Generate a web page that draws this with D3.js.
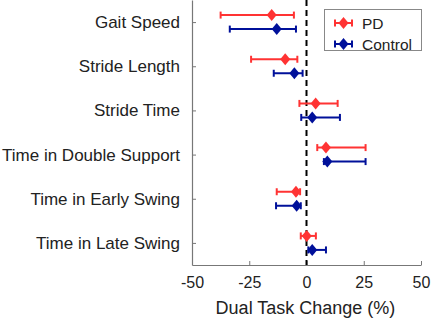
<!DOCTYPE html>
<html><head><meta charset="utf-8">
<script src="https://cdn.jsdelivr.net/npm/d3@7"></script>
<style>body{margin:0;background:#fff}text{font-family:"Liberation Sans",Arial,sans-serif;fill:#222}</style>
</head><body><svg id="c" width="431" height="321"></svg>
<script>
const categories = ["Gait Speed","Stride Length","Stride Time","Time in Double Support","Time in Early Swing","Time in Late Swing"];
const pdMean  = [-15.2, -9.3, 4.0, 8.5, -4.6, 0.1];
const pdLow   = [-37.5, -24.2, -3.1, 4.7, -13.0, -2.5];
const pdHigh  = [-5.5, -4.0, 13.6, 25.8, -2.8, 4.1];
const ctMean  = [-13.0, -5.3, 2.5, 9.1, -4.3, 2.5];
const ctLow   = [-33.5, -14.3, -2.3, 7.6, -13.3, 0.8];
const ctHigh  = [-4.6, -1.7, 14.6, 25.8, -2.5, 8.5];
const xTicks  = [-50, -25, 0, 25, 50];
const seriesNames = ["PD", "Control"];
const colors = ["#ff3333", "#00109a"];

const svg = d3.select("#c");
const L = 192, R = 421, T = 0, B = 265;
const x = d3.scaleLinear().domain([-50, 50]).range([L, R]);
const y = d3.scalePoint().domain(categories).range([T, B]).padding(0.5);

// axes
const gx = svg.append("g").attr("transform", `translate(0,${B})`)
  .call(d3.axisBottom(x).tickValues(xTicks).tickFormat(d => String(d)).tickSizeInner(-4).tickSizeOuter(0).tickPadding(12));
const gy = svg.append("g").attr("transform", `translate(${L},0)`)
  .call(d3.axisLeft(y).tickSizeInner(-4).tickSizeOuter(0).tickPadding(12));
[gx, gy].forEach(g => {
  g.select(".domain").attr("stroke", "#777").attr("stroke-width", 1.2);
  g.selectAll(".tick line").attr("stroke", "#777");
  g.selectAll("text").style("font-family", '"Liberation Sans",Arial,sans-serif').attr("fill", "#222");
});
gx.selectAll("text").style("font-size", "16px");
gy.selectAll("text").style("font-size", "17px");

svg.append("text").attr("x", (L + R) / 2 - 1).attr("y", 314).attr("text-anchor", "middle")
  .style("font-size", "18px").text("Dual Task Change (%)");

// zero line
svg.append("line").attr("x1", x(0)).attr("x2", x(0)).attr("y1", T).attr("y2", B)
  .attr("stroke", "#000").attr("stroke-width", 2).attr("stroke-dasharray", "6,4");

function diamond(g, cx, cy, col) {
  g.append("path").attr("d", `M${cx},${cy-6}L${cx+5},${cy}L${cx},${cy+6}L${cx-5},${cy}Z`).attr("fill", col);
}
function errbar(g, lo, hi, cy, col) {
  g.append("line").attr("x1", lo).attr("x2", hi).attr("y1", cy).attr("y2", cy).attr("stroke", col).attr("stroke-width", 2);
  [lo, hi].forEach(xx => g.append("line").attr("x1", xx).attr("x2", xx).attr("y1", cy-3.5).attr("y2", cy+3.5).attr("stroke", col).attr("stroke-width", 2));
}

const series = [
  {mean: pdMean, low: pdLow, high: pdHigh, off: -7},
  {mean: ctMean, low: ctLow, high: ctHigh, off: 7}
];
series.forEach((s, si) => {
  const g = svg.append("g");
  categories.forEach((c, i) => {
    const cy = y(c) + s.off;
    errbar(g, x(s.low[i]), x(s.high[i]), cy, colors[si]);
    diamond(g, x(s.mean[i]), cy, colors[si]);
  });
});

// legend
const lg = svg.append("g");
lg.append("rect").attr("x", 324.5).attr("y", 9.5).attr("width", 97).attr("height", 41)
  .attr("fill", "#fff").attr("stroke", "#888").attr("stroke-width", 1);
seriesNames.forEach((n, i) => {
  const cy = 23 + i * 21;
  errbar(lg, 335, 352, cy, colors[i]);
  diamond(lg, 343.5, cy, colors[i]);
  lg.append("text").attr("x", 362).attr("y", cy + 6).style("font-size", "15.5px").text(n);
});
</script></body></html>
